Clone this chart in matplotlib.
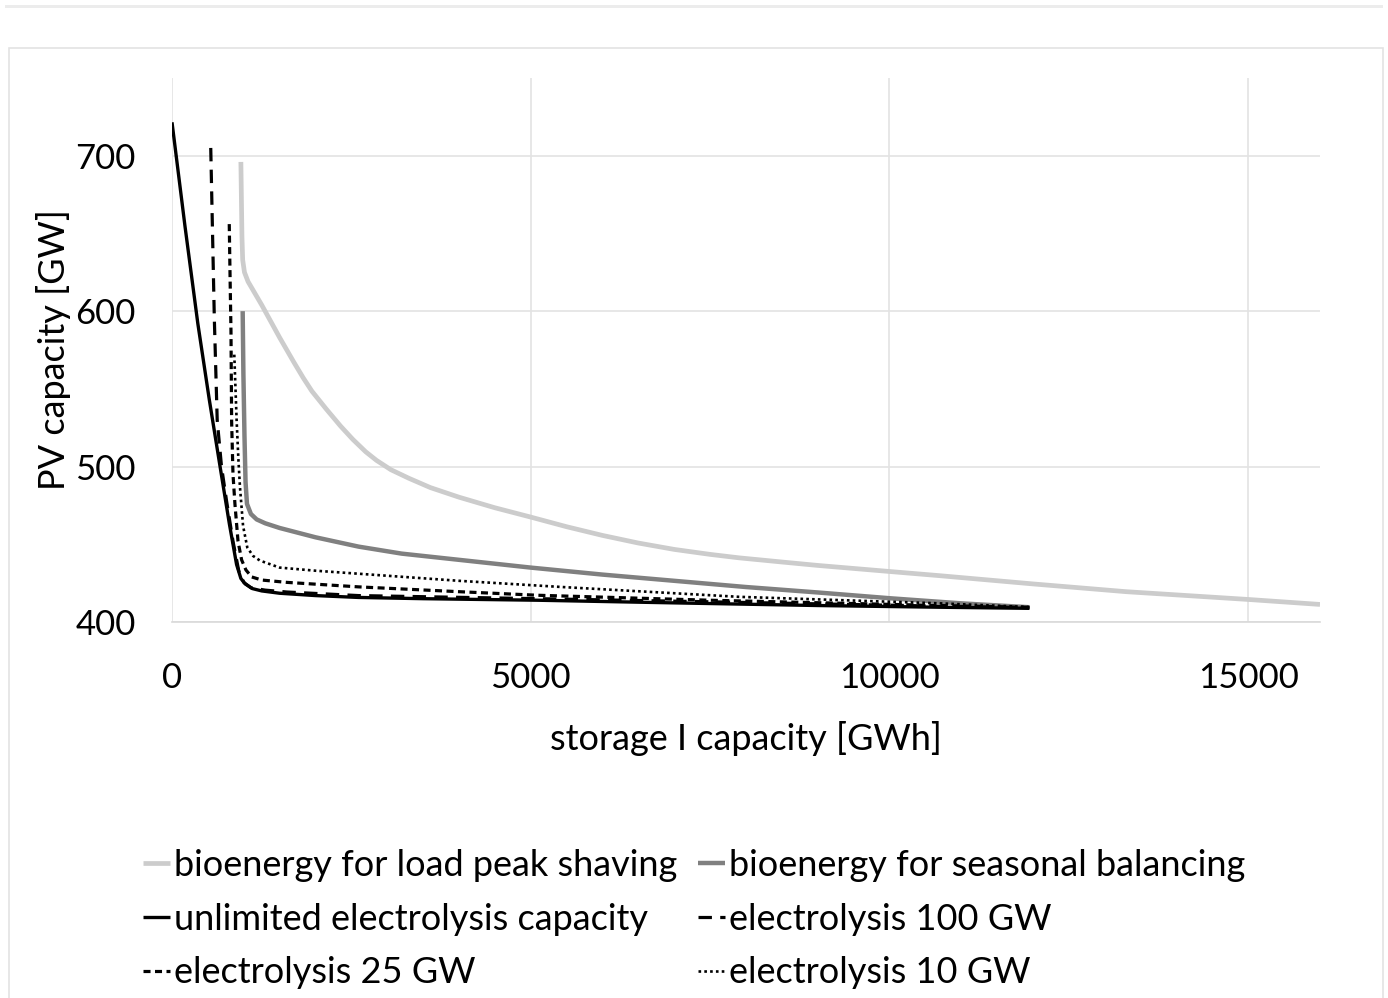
import matplotlib
matplotlib.use("Agg")
import matplotlib.pyplot as plt
from matplotlib.patches import Rectangle

plt.rcParams["font.family"] = ["Lato", "DejaVu Sans"]

# storage I capacity [GWh] / PV capacity [GW]
peak_x = [960, 968, 975, 985, 1010, 1060, 1250, 1500, 1700, 1830, 1950, 2150, 2350,
          2520, 2700, 2850, 3050, 3300, 3600, 4000, 4500, 5000, 5500, 6000, 6500,
          7000, 7500, 7900, 8500, 9000, 10000, 10700, 12000, 13300, 15000, 16000]
peak_y = [696, 670, 648, 633, 625, 619, 604, 583, 567, 557, 548.5, 537, 526,
          517.5, 509.5, 504, 498, 492.5, 486.5, 480.3, 473.5, 467.5, 461.3, 455.7, 450.8,
          446.7, 443.5, 441.3, 438.6, 436.4, 432.5, 429.8, 424.5, 419.5, 414.5, 411.3]

seas_x = [985, 995, 1010, 1025, 1045, 1100, 1180, 1300, 1500, 2000, 2600, 3200, 4000,
          5000, 6000, 7000, 8000, 9000, 10000, 11000, 11950]
seas_y = [600, 560, 520, 490, 476, 469.5, 466, 463.5, 460.5, 454.5, 448.5, 444, 440,
          435, 430.5, 426.5, 422.5, 419, 415.3, 412, 409.5]

unl_x = [0, 180, 360, 520, 670, 800, 900, 960, 1020, 1120, 1250, 1500, 2000, 2600,
         3500, 5100, 7000, 9000, 10700, 11950]
unl_y = [721.5, 655, 592, 543, 500, 463, 437, 428, 424.5, 421.5, 420, 418.5, 417, 415.8,
         415, 414, 412.3, 410.6, 409.5, 408.8]

el100_x = [540, 565, 590, 630, 690, 760, 850, 930, 1000, 1100, 1300, 1600, 2600,
           5100, 7500, 10700, 11950]
el100_y = [705, 650, 595, 530, 500, 478, 452, 433, 425.5, 422, 420.5, 419.3, 417,
           415, 413, 410.2, 409.3]

el25_x = [798, 810, 822, 831, 850, 877, 920, 970, 1030, 1110, 1250, 1600, 2600,
          4000, 5100, 7500, 10700, 11950]
el25_y = [656, 620, 587, 529, 495, 476, 452, 440, 433.5, 429, 427, 425.5, 422.6,
          419.5, 417.2, 414, 410.6, 409.4]

el10_x = [868, 885, 901, 925, 947, 990, 1049, 1130, 1226, 1500, 2000, 2618, 4000,
          5400, 7900, 10700, 11950]
el10_y = [572, 550, 529.5, 505, 487, 462, 448, 442.5, 439.5, 435, 433, 431, 426.5,
          422.6, 416.2, 412, 409.6]

fig = plt.figure(figsize=(13.88, 9.98), dpi=100)
ax = fig.add_axes([172 / 1388, 1 - 622 / 998, (1320 - 172) / 1388, (622 - 78) / 998])

# page rule and chart-area frame (Excel look)
fig.patches.append(Rectangle((5 / 1388, 1 - 8 / 998), 1378 / 1388, 3 / 998,
                             transform=fig.transFigure, color="#ececec", lw=0))
fig.patches.append(Rectangle((9 / 1388, -0.01), 1374 / 1388, 1 - 47.5 / 998 + 0.01,
                             transform=fig.transFigure, fill=False,
                             edgecolor="#e3e3e3", lw=1.2))

l_peak, = ax.plot(peak_x, peak_y, color="#cccccc", lw=3.4, solid_capstyle="butt")
l_seas, = ax.plot(seas_x, seas_y, color="#808080", lw=3.2, solid_capstyle="butt")
l_unl, = ax.plot(unl_x, unl_y, color="black", lw=2.4, solid_capstyle="butt")
l_100, = ax.plot(el100_x, el100_y, color="black", lw=2.3, ls=(0, (4.2, 2.6)))
l_25, = ax.plot(el25_x, el25_y, color="black", lw=2.3, ls=(0, (2.2, 1.4)))
l_10, = ax.plot(el10_x, el10_y, color="black", lw=1.9, ls=(0, (1, 1.2)))

ax.set_xlim(0, 16000)
ax.set_ylim(400, 750)
ax.set_xticks([0, 5000, 10000, 15000])
ax.set_yticks([400, 500, 600, 700])
ax.grid(True, color="#e3e3e3", lw=1.2)
ax.set_axisbelow(True)
for s in ["top", "right", "left"]:
    ax.spines[s].set_visible(False)
ax.spines["bottom"].set_color("#d9d9d9")
ax.spines["bottom"].set_linewidth(1.2)
ax.tick_params(length=0, labelsize=25)
ax.tick_params(axis="x", pad=29)
ax.tick_params(axis="y", pad=26)

ax.set_xlabel("storage I capacity [GWh]", fontsize=26, labelpad=19)
ax.set_ylabel("PV capacity [GW]", fontsize=26, labelpad=3)

handles = [l_peak, l_unl, l_25, l_seas, l_100, l_10]
labels = ["bioenergy for load peak shaving", "unlimited electrolysis capacity",
          "electrolysis 25 GW", "bioenergy for seasonal balancing",
          "electrolysis 100 GW", "electrolysis 10 GW"]
fig.legend(handles, labels, ncol=2, loc="upper left",
           bbox_to_anchor=(143 / 1388, 1 - 849 / 998), frameon=False,
           fontsize=26, handlelength=0.75, handletextpad=0.12,
           columnspacing=0.55, labelspacing=0.57, borderpad=0, borderaxespad=0)

fig.savefig("out.png", dpi=100)
